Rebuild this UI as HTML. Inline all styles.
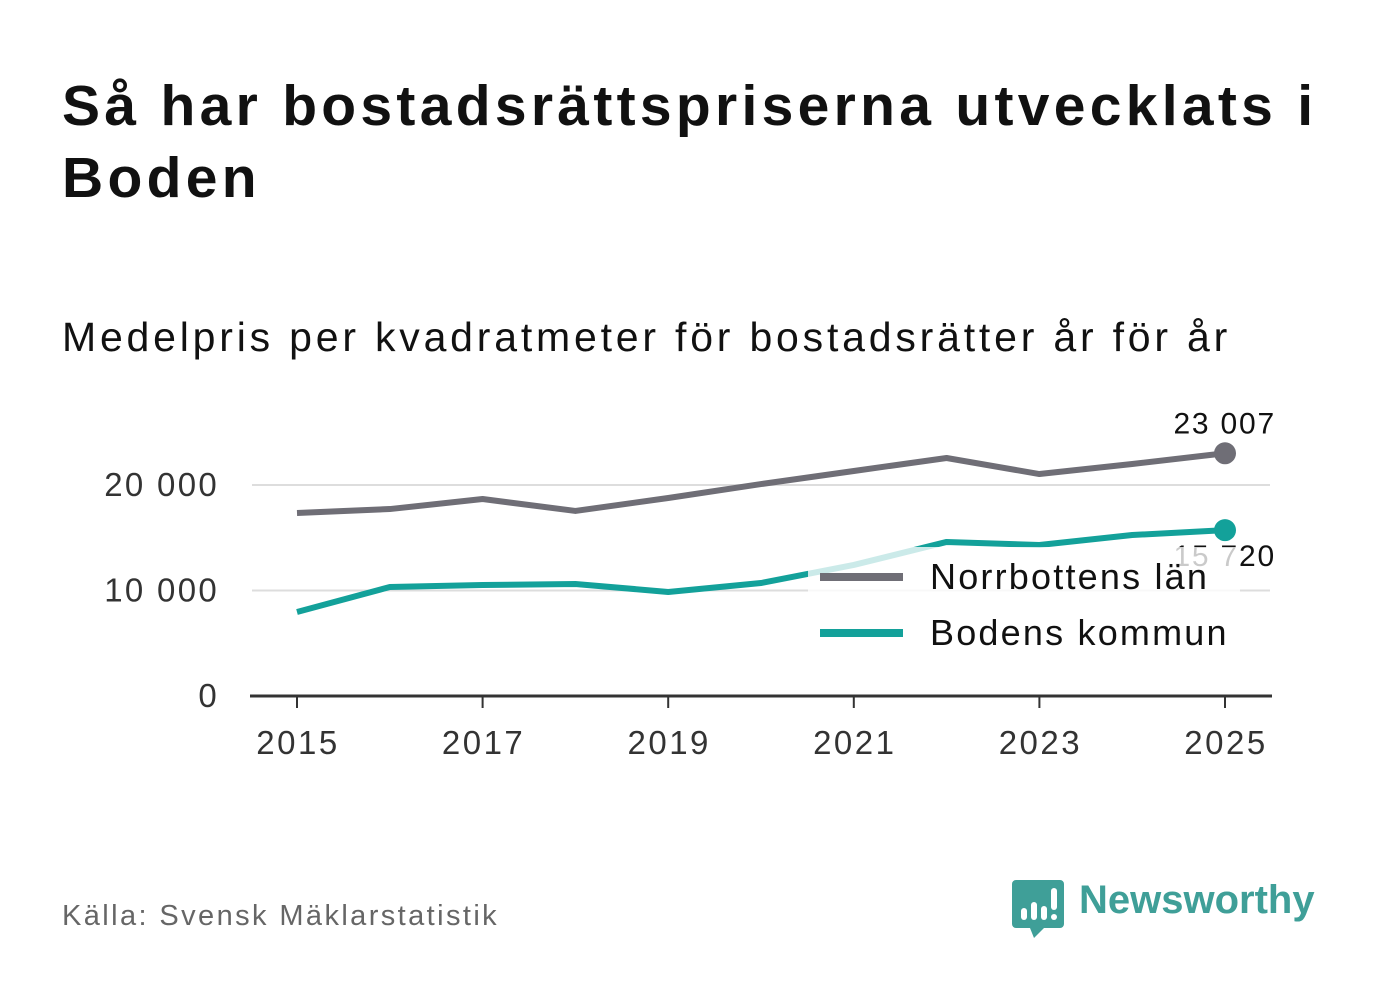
<!DOCTYPE html>
<html><head><meta charset="utf-8"><style>
body{margin:0;width:1382px;height:999px;background:#fff;font-family:"Liberation Sans","DejaVu Sans",sans-serif;overflow:hidden;position:relative}
h1{position:absolute;left:62px;top:70px;margin:0;font-size:57px;line-height:72px;font-weight:bold;color:#111;width:1310px;letter-spacing:4.3px}
.sub{position:absolute;left:62px;top:314px;font-size:41px;color:#111;letter-spacing:3.8px;white-space:nowrap}
.src{position:absolute;left:62px;top:900px;font-size:29px;color:#666;letter-spacing:2.4px}
.logo{position:absolute;left:1012px;top:880px}
.logotext{position:absolute;left:1079px;top:878px;font-size:40px;font-weight:bold;color:#3f9f98}
</style></head><body>
<h1>Så har bostadsrättspriserna utvecklats i<br>Boden</h1>
<div class="sub">Medelpris per kvadratmeter för bostadsrätter år för år</div>
<svg id="chart" width="1382" height="999" style="position:absolute;left:0;top:0" font-family="Liberation Sans, DejaVu Sans, sans-serif"></svg>
<div class="src">Källa: Svensk Mäklarstatistik</div>
<svg class="logo" width="52" height="60" viewBox="0 0 52 60"><path d="M4 0h44a4 4 0 0 1 4 4v40a4 4 0 0 1-4 4H32l-10 10-4-10H4a4 4 0 0 1-4-4V4a4 4 0 0 1 4-4z" fill="#3f9f98"/><rect x="9" y="28" width="6" height="12" rx="3" fill="#fff"/><rect x="19" y="22" width="6" height="18" rx="3" fill="#fff"/><rect x="29" y="26" width="6" height="14" rx="3" fill="#fff"/><rect x="39" y="8" width="6" height="22" rx="3" fill="#fff"/><circle cx="42" cy="37" r="3" fill="#fff"/></svg>
<div class="logotext">Newsworthy</div>
<script>
const years=[2015,2016,2017,2018,2019,2020,2021,2022,2023,2024,2025];
const norrbotten=[17350,17720,18670,17540,18770,20090,21330,22560,21040,21990,23007];
const boden=[7960,10330,10520,10620,9860,10710,12420,14600,14310,15260,15720];
const yTicks=[0,10000,20000];
const xTicks=[2015,2017,2019,2021,2023,2025];
const svg=document.getElementById('chart');
const NS='http://www.w3.org/2000/svg';
const x=v=>297+(v-2015)*92.8;
const y=v=>696-v*0.01055;
const fmt=v=>v===0?'0':String(v).replace(/\B(?=(\d{3})+(?!\d))/g,' ');
function mk(t,a){const e=document.createElementNS(NS,t);for(const k in a)e.setAttribute(k,a[k]);svg.appendChild(e);return e;}
yTicks.forEach(v=>{
 if(v>0){const g=mk('line',{x1:252,x2:1270,y1:y(v),y2:y(v),stroke:'#ddd','stroke-width':2});
 
 }
 const t=mk('text',{x:219,y:y(v)+11,'text-anchor':'end','font-size':33,fill:'#333','letter-spacing':2.3});t.textContent=fmt(v);
 
 
});
const ax=mk('line',{x1:250,x2:1272,y1:696,y2:696,stroke:'#333','stroke-width':3});


xTicks.forEach(v=>{
 const tk=mk('line',{x1:x(v),x2:x(v),y1:696,y2:708,stroke:'#333','stroke-width':2});
 
 
 const t=mk('text',{x:x(v)+1,y:754,'text-anchor':'middle','font-size':33,fill:'#333','letter-spacing':2.5});t.textContent=v;
 
 
});
function line(vals,col,name){
 const p=mk('polyline',{points:vals.map((v,i)=>x(years[i])+','+y(v)).join(' '),fill:'none',stroke:col,'stroke-width':6,'stroke-linejoin':'round'});
 
 
 const n=vals.length-1;
 const c=mk('circle',{cx:x(years[n]),cy:y(vals[n]),r:11,fill:col});
 
 
}
line(norrbotten,'#6f6e76','norrbotten');
line(boden,'#13a19a','boden');
const l1=mk('text',{x:1276,y:y(norrbotten[10])-20,'text-anchor':'end','font-size':30,fill:'#111','letter-spacing':1.8});l1.textContent=fmt(norrbotten[10]);


const l2=mk('text',{x:1276,y:y(boden[10])+36,'text-anchor':'end','font-size':30,fill:'#111','letter-spacing':1.8});l2.textContent=fmt(boden[10]);


const lb=mk('rect',{x:808,y:547,width:432,height:115,fill:'#fff','fill-opacity':0.78});


[['Norrbottens län','#6f6e76',577],['Bodens kommun','#13a19a',633]].forEach(([n,c,yy])=>{
 const s=mk('line',{x1:820,x2:903,y1:yy,y2:yy,stroke:c,'stroke-width':8});
 
 
 const t=mk('text',{x:930,y:yy+12,'font-size':36,fill:'#111','letter-spacing':2.2});t.textContent=n;
 
 
});
</script>
</body></html>
